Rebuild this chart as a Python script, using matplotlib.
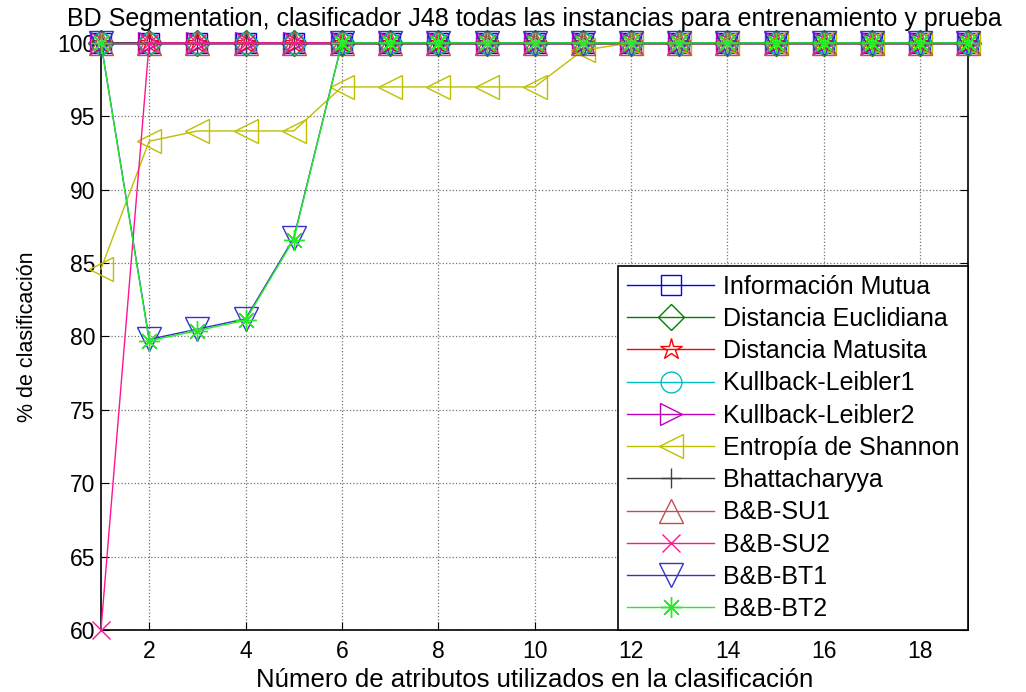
import numpy as np
import matplotlib
matplotlib.use("Agg")
import matplotlib.pyplot as plt

plt.rcParams['font.family'] = ['Liberation Sans', 'DejaVu Sans']

# numero de atributos
atributos = np.arange(1, 20)

# % de clasificacion por metodo
info_mutua = [100] * 19
dist_euclidiana = [100] * 19
dist_matusita = [100] * 19
kullback1 = [100] * 19
kullback2 = [100] * 19
entropia_shannon = [84.6, 93.3, 94, 94, 94, 97, 97, 97, 97, 97, 99.5,
                    100, 100, 100, 100, 100, 100, 100, 100]
bhattacharyya = [100] * 19
bb_su1 = [100] * 19
bb_su2 = [60] + [100] * 18
bb_bt1 = [100, 79.8, 80.5, 81.2, 86.7] + [100] * 14
bb_bt2 = [100, 79.7, 80.4, 81.1, 86.6] + [100] * 14

nombres = ['Información Mutua', 'Distancia Euclidiana', 'Distancia Matusita',
           'Kullback-Leibler1', 'Kullback-Leibler2', 'Entropía de Shannon',
           'Bhattacharyya', 'B&B-SU1', 'B&B-SU2', 'B&B-BT1', 'B&B-BT2']
series = [info_mutua, dist_euclidiana, dist_matusita, kullback1, kullback2,
          entropia_shannon, bhattacharyya, bb_su1, bb_su2, bb_bt1, bb_bt2]
colores = ['#0000ff', '#007f00', '#ff0000', '#00bfbf', '#bf00bf', '#bfbf00',
           '#404040', '#c05050', '#ff1493', '#3333cc', '#22ee22']
marcadores = ['s', 'D', '*', 'o', '>', '<', '+', '^', 'x', 'v', (8, 2, 0)]
tamanos = [14, 13, 16, 15, 16, 17, 15, 17, 13, 17, 15]

fig = plt.figure(figsize=(10.26, 6.92), dpi=100)
ax = fig.add_axes([0.0984, 0.0896, 0.8455, 0.8484])

for y, nom, c, m, s in zip(series, nombres, colores, marcadores, tamanos):
    ax.plot(atributos, y, color=c, marker=m, markersize=s, markerfacecolor='none',
            markeredgecolor=c, markeredgewidth=1.0, linewidth=1.0, label=nom,
            clip_on=False, zorder=3)

ax.set_xlim(1, 19)
ax.set_ylim(60, 100)
ax.set_xticks(np.arange(2, 19, 2))
ax.set_yticks(np.arange(60, 101, 5))
ax.tick_params(direction='in', labelsize=16.5, length=6, top=True, right=True)
ax.tick_params(axis='x', pad=7)
ax.tick_params(axis='y', pad=4)
ax.grid(True, color='0.45', linestyle=':', linewidth=0.9)
for sp in ax.spines.values():
    sp.set_linewidth(1.2)

ax.set_title('BD Segmentation, clasificador J48 todas las instancias para entrenamiento y prueba',
             fontsize=18, pad=12)
ax.set_xlabel('Número de atributos utilizados en la clasificación', fontsize=18.5, labelpad=4)
ax.set_ylabel('% de clasificación', fontsize=15.5, labelpad=14)

leg = ax.legend(loc='lower right', bbox_to_anchor=(1.0, 0.0), borderaxespad=0.0,
                fontsize=18, fancybox=False, framealpha=1, edgecolor='black',
                handlelength=3.5, labelspacing=0.33, borderpad=0.35, handletextpad=0.35)
leg.get_frame().set_linewidth(1.2)
leg.set_zorder(5)

fig.savefig('out.png', dpi=100)
